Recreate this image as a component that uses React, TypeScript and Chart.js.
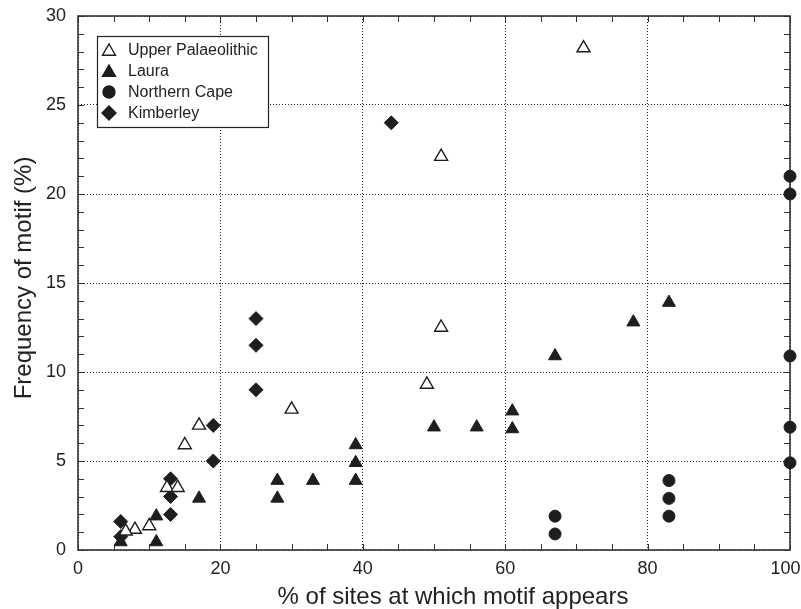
import React, { useEffect, useRef } from 'react';
import { Chart, registerables } from 'chart.js';

Chart.register(...registerables);

// ---- data ----
const seriesNames = ['Upper Palaeolithic', 'Laura', 'Northern Cape', 'Kimberley'];

const upperPalaeolithicX = [71, 51, 51, 49, 30, 17, 15, 12.5, 14, 10, 8, 6.7];
const upperPalaeolithicY = [28.2, 22.1, 12.5, 9.3, 7.9, 7.0, 5.9, 3.5, 3.5, 1.35, 1.15, 1.05];

const lauraX = [83, 78, 67, 61, 61, 56, 50, 39, 39, 39, 33, 28, 28, 17, 11, 11, 6];
const lauraY = [13.9, 12.8, 10.9, 7.8, 6.8, 6.9, 6.9, 5.9, 4.9, 3.9, 3.9, 3.9, 2.9, 2.9, 1.9, 0.45, 0.45];

const northernCapeX = [100, 100, 100, 100, 100, 83, 83, 83, 67, 67];
const northernCapeY = [21, 20, 10.9, 6.9, 4.9, 3.9, 2.9, 1.9, 1.9, 0.9];

const kimberleyX = [44, 25, 25, 25, 19, 19, 13, 13, 13, 6, 6];
const kimberleyY = [24, 13, 11.5, 9, 7, 5, 4, 3, 2, 1.6, 0.75];

const xTicks = [0, 20, 40, 60, 80, 100];
const yTicks = [0, 5, 10, 15, 20, 25, 30];

const xTitle = '% of sites at which motif appears';
const yTitle = 'Frequency of motif (%)';

const FONT = "'Liberation Sans', Arial, Helvetica, sans-serif";
const INK = '#1e1e1e';

const toPoints = (xs: number[], ys: number[]) => xs.map((x, i) => ({ x, y: ys[i] }));

function drawMarker(ctx: CanvasRenderingContext2D, style: string, cx: number, cy: number, r: number, fill: string) {
  ctx.beginPath();
  if (style === 'triangle') {
    ctx.moveTo(cx, cy - r);
    ctx.lineTo(cx + r * 0.866, cy + r / 2);
    ctx.lineTo(cx - r * 0.866, cy + r / 2);
    ctx.closePath();
  } else if (style === 'circle') {
    ctx.arc(cx, cy, r, 0, Math.PI * 2);
  } else {
    ctx.moveTo(cx, cy - r);
    ctx.lineTo(cx + r, cy);
    ctx.lineTo(cx, cy + r);
    ctx.lineTo(cx - r, cy);
    ctx.closePath();
  }
  ctx.fillStyle = fill;
  ctx.fill();
  ctx.lineWidth = 1.4;
  ctx.strokeStyle = INK;
  ctx.stroke();
}

const framePlugin = {
  id: 'frameTicks',
  beforeDatasetsDraw(chart: any) {
    const { ctx, chartArea, scales } = chart;
    const { left, right, top, bottom } = chartArea;
    const x = scales.x;
    const y = scales.y;
    ctx.save();
    ctx.strokeStyle = '#333';
    ctx.lineWidth = 1;
    ctx.beginPath();
    for (let v = 0; v <= 30; v += 1) {
      const py = Math.round(y.getPixelForValue(v)) + 0.5;
      ctx.moveTo(left, py);
      ctx.lineTo(left + 6, py);
      ctx.moveTo(right, py);
      ctx.lineTo(right - 6, py);
    }
    for (let v = 0; v <= 100; v += 5) {
      const px = Math.round(x.getPixelForValue(v)) + 0.5;
      ctx.moveTo(px, top);
      ctx.lineTo(px, top + 6);
      ctx.moveTo(px, bottom);
      ctx.lineTo(px, bottom - 6);
    }
    ctx.stroke();
    ctx.lineWidth = 1.6;
    ctx.strokeStyle = '#333';
    ctx.strokeRect(left, top, right - left, bottom - top);
    ctx.restore();
  },
};

const legendPlugin = {
  id: 'insetLegend',
  afterDraw(chart: any) {
    const { ctx } = chart;
    const bx = 97, by = 36, bw = 171, bh = 91;
    ctx.save();
    ctx.fillStyle = '#fff';
    ctx.fillRect(bx, by, bw, bh);
    ctx.strokeStyle = '#222';
    ctx.lineWidth = 1.2;
    ctx.strokeRect(bx + 0.5, by + 0.5, bw, bh);
    const rows = [50, 71, 92, 113];
    chart.data.datasets.forEach((ds: any, i: number) => {
      const cy = rows[i];
      const st = ds.pointStyle === 'rectRot' ? 'diamond' : ds.pointStyle;
      const r = st === 'circle' ? 6 : st === 'diamond' ? 7 : 7.5;
      drawMarker(ctx, st, 109, st === 'triangle' ? cy + 1.5 : cy, r, ds.backgroundColor);
      ctx.fillStyle = '#222';
      ctx.font = `16px ${FONT}`;
      ctx.textBaseline = 'middle';
      ctx.textAlign = 'left';
      ctx.fillText(ds.label, 128, cy + 1);
    });
    ctx.restore();
  },
};

// axis titles, placed as in the reference
const titlesPlugin = {
  id: 'axisTitles',
  afterDraw(chart: any) {
    const { ctx } = chart;
    ctx.save();
    ctx.fillStyle = '#222';
    ctx.font = `24px ${FONT}`;
    ctx.textAlign = 'center';
    ctx.textBaseline = 'middle';
    ctx.fillText(xTitle, 453, 597);
    ctx.translate(24, 278);
    ctx.rotate(-Math.PI / 2);
    ctx.fillText(yTitle, 0, 0);
    ctx.restore();
  },
};

export default function App() {
  const ref = useRef<HTMLCanvasElement | null>(null);

  useEffect(() => {
    if (!ref.current) return;
    Chart.defaults.font.family = FONT;
    const chart = new Chart(ref.current, {
      type: 'scatter',
      data: {
        datasets: [
          {
            label: seriesNames[0],
            data: toPoints(upperPalaeolithicX, upperPalaeolithicY),
            pointStyle: 'triangle',
            pointRadius: 7.5,
            backgroundColor: '#ffffff',
            borderColor: INK,
            borderWidth: 1.4,
            clip: false,
          },
          {
            label: seriesNames[1],
            data: toPoints(lauraX, lauraY),
            pointStyle: 'triangle',
            pointRadius: 7.5,
            backgroundColor: INK,
            borderColor: INK,
            borderWidth: 1,
            clip: false,
          },
          {
            label: seriesNames[2],
            data: toPoints(northernCapeX, northernCapeY),
            pointStyle: 'circle',
            pointRadius: 6,
            backgroundColor: INK,
            borderColor: INK,
            borderWidth: 1,
            clip: false,
          },
          {
            label: seriesNames[3],
            data: toPoints(kimberleyX, kimberleyY),
            pointStyle: 'rectRot',
            pointRadius: 7,
            backgroundColor: INK,
            borderColor: INK,
            borderWidth: 1,
            clip: false,
          },
        ],
      },
      options: {
        responsive: false,
        animation: false,
        events: [],
        layout: { padding: { left: 0, top: 16, right: 11, bottom: 0 } },
        plugins: {
          legend: { display: false },
          tooltip: { enabled: false },
        },
        scales: {
          x: {
            type: 'linear',
            min: 0,
            max: 100,
            afterBuildTicks: (s: any) => {
              s.ticks = xTicks.map((v) => ({ value: v }));
            },
            afterFit: (s: any) => {
              s.height = 59;
              s.paddingLeft = 0;
              s.paddingRight = 0;
            },
            grid: { color: '#222', lineWidth: 1, drawTicks: false },
            border: { display: false, dash: [1, 2] },
            ticks: {
              color: '#222',
              font: { size: 18 },
              padding: 8,
              maxRotation: 0,
              // the last label is pulled inside the page edge, as in the reference
              callback: (v: any) => (v === xTicks[xTicks.length - 1] ? `${v}\u2002` : `${v}`),
            },
            title: { display: false, text: xTitle },
          },
          y: {
            type: 'linear',
            min: 0,
            max: 30,
            afterBuildTicks: (s: any) => {
              s.ticks = yTicks.map((v) => ({ value: v }));
            },
            afterFit: (s: any) => {
              s.width = 78;
              s.paddingTop = 0;
              s.paddingBottom = 0;
            },
            grid: { color: '#222', lineWidth: 1, drawTicks: false },
            border: { display: false, dash: [1, 2] },
            ticks: { color: '#222', font: { size: 18 }, padding: 12 },
            title: { display: false, text: yTitle },
          },
        },
      },
      plugins: [framePlugin, legendPlugin, titlesPlugin],
    } as any);
    return () => chart.destroy();
  }, []);

  return (
    <div style={{ position: 'fixed', left: 0, top: 0, width: 801, height: 609, background: '#fff' }}>
      <canvas ref={ref} width={801} height={609} style={{ display: 'block' }} />
    </div>
  );
}
